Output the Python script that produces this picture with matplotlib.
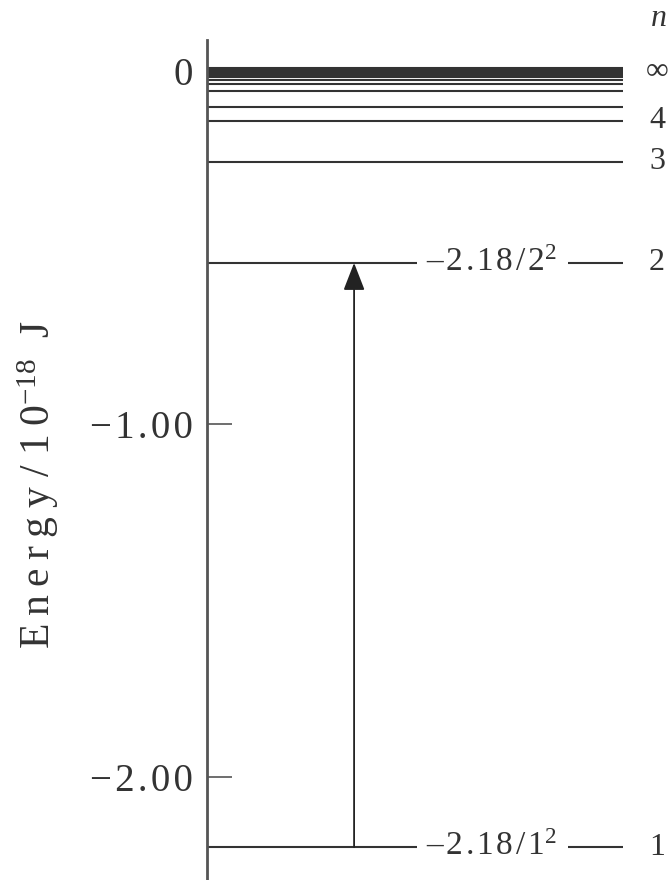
import matplotlib
matplotlib.use('Agg')
import matplotlib.pyplot as plt

plt.rcParams['font.family'] = ['Liberation Serif', 'DejaVu Serif']
plt.rcParams['mathtext.fontset'] = 'custom'
plt.rcParams['mathtext.rm'] = 'Liberation Serif'
plt.rcParams['mathtext.it'] = 'Liberation Serif:italic'

# energy levels (10^-18 J), n = 1 upward to the limit
energies = [-2.20, -0.545, -0.259, -0.143, -0.103, -0.058, -0.038, -0.027,
            -0.018, -0.012, -0.008, -0.004, 0.0, 0.004, 0.007]
level_names = ['1', '2', '3', '4', '\u221e']
level_name_y = [-2.20, -0.545, -0.259, -0.143, -0.002]
gap_labels = {0: ('\u20132.18/1', '2'), 1: ('\u20132.18/2', '2')}
yticks = [0, -1.0, -2.0]
ytick_labels = ['0', '\u22121.00', '\u22122.00']

ink = '#333333'
HAIR = '\u200a'
THIN = '\u2009'


def spaced(s, sep):
    # the book typesetting has wide letter spacing
    return sep.join(s)


fig = plt.figure(figsize=(6.71, 8.8), dpi=100)
ax = fig.add_axes([207 / 671, 0, 464 / 671, 840 / 880])
ax.set_xlim(0, 1)
ax.set_ylim(-2.293, 0.0864)

# horizontal level lines
for i, e in enumerate(energies):
    if i in gap_labels:
        ax.plot([0, 0.452], [e, e], color=ink, lw=1.5, solid_capstyle='butt')
        ax.plot([0.778, 0.897], [e, e], color=ink, lw=1.5, solid_capstyle='butt')
        base, sup = gap_labels[i]
        ax.text(0.472, e, spaced(base, HAIR) + '$^{' + sup + '}$', fontsize=24,
                color=ink, ha='left', va='center')
    else:
        ax.plot([0, 0.897], [e, e], color=ink, lw=1.5, solid_capstyle='butt')

for name, y in zip(level_names, level_name_y):
    ax.text(0.97, y, name, fontsize=23, color=ink, ha='center', va='center')

# transition arrow 1 -> 2
ax.annotate('', xy=(0.317, energies[1]), xytext=(0.317, energies[0]),
            arrowprops=dict(arrowstyle='-|>,head_length=0.85,head_width=0.33',
                            mutation_scale=20, lw=1.3, color='#222222',
                            shrinkA=0, shrinkB=0))

for s in ['top', 'right', 'bottom']:
    ax.spines[s].set_visible(False)
ax.spines['left'].set_color('#555555')
ax.spines['left'].set_linewidth(2)
ax.set_xticks([])
ax.set_yticks(yticks)
ax.set_yticklabels([spaced(t, HAIR) for t in ytick_labels], fontsize=28, color=ink)
ax.tick_params(axis='y', direction='in', length=18, width=1.2, color='#555555', pad=10)

fig.text(38 / 671, 1 - 484 / 880,
         spaced('Energy', THIN) + ' / ' + spaced('10', THIN)
         + '$^{-18}$' + '  J',
         rotation=90, fontsize=30, color=ink, ha='center', va='center')
fig.text(658 / 671, 1 - 18 / 880, '$n$', fontsize=23, color=ink,
         ha='center', va='center')

fig.savefig('out.png', dpi=100)
